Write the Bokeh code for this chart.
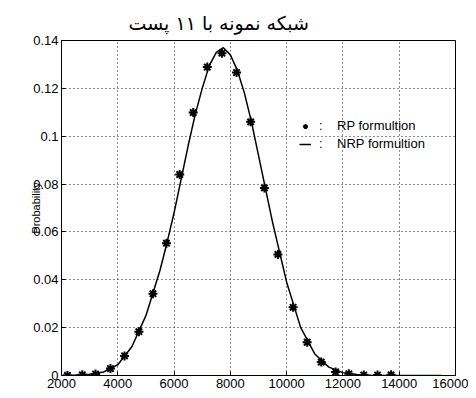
from bokeh.plotting import figure
from bokeh.models import Legend, LegendItem, FixedTicker, Range1d
from bokeh.embed import file_html
from bokeh.resources import INLINE

# RP formulation (markers)
rp_x = [2210, 2740, 3210, 3740, 4240, 4750, 5250, 5730, 6200, 6680, 7180, 7700,
        8220, 8720, 9210, 9690, 10230, 10730, 11230, 11740, 12210, 12740, 13230, 13710]
rp_y = [0.0, 0.0003, 0.0006, 0.0029, 0.0082, 0.0183, 0.0342, 0.0553, 0.0840, 0.1099,
        0.1289, 0.1347, 0.1266, 0.1060, 0.0784, 0.0506, 0.0285, 0.0139, 0.0056, 0.0015,
        0.0007, 0.0002, 0.0002, 0.0003]

# NRP formulation (line)
nrp_x = [2000, 2500, 3000, 3500, 4000, 4500, 5000, 5500, 5750, 6000, 6500, 6750, 7000,
         7250, 7500, 7750, 8000, 8250, 8500, 8750, 9000, 9250, 9500, 10000, 10500, 11000,
         11500, 12000, 12500, 13000, 14000, 15500]
nrp_y = [0.0, 0.0002, 0.0005, 0.0015, 0.0045, 0.012, 0.025, 0.044, 0.0555, 0.068, 0.096,
         0.109, 0.120, 0.1295, 0.135, 0.137, 0.134, 0.1275, 0.118, 0.106, 0.092, 0.078,
         0.064, 0.039, 0.020, 0.009, 0.0035, 0.0012, 0.0004, 0.0001, 0.0, 0.0]

x_ticks = [2000, 4000, 6000, 8000, 10000, 12000, 14000, 16000]
x_tick_labels = ["2000", "4000", "6000", "8000", "10000", "12000", "14000", "16000"]
y_ticks = [0, 0.02, 0.04, 0.06, 0.08, 0.1, 0.12, 0.14]
y_tick_labels = ["0", "0.02", "0.04", "0.06", "0.08", "0.1", "0.12", "0.14"]

title_text = "شبکه نمونه با ۱۱ پست"
legend_labels = [":\u00a0\u00a0\u00a0\u00a0RP formultion", ":\u00a0\u00a0\u00a0\u00a0NRP formultion"]
y_label = "Probability"

FONT = "Liberation Sans"

p = figure(width=468, height=390, output_backend="svg", toolbar_location=None,
           x_range=Range1d(2000, 16000), y_range=Range1d(0, 0.14),
           min_border_left=61, min_border_right=13, min_border_top=40, min_border_bottom=15)

p.title.text = title_text
p.title.text_font = "DejaVu Sans"
p.title.text_font_size = "19px"
p.title.text_font_style = "normal"
p.title.text_color = "black"
p.title.align = "left"
p.title.offset = 67
p.title.standoff = 14

p.outline_line_color = "black"
p.outline_line_width = 1
p.outline_line_alpha = 1
p.background_fill_color = "white"
p.border_fill_color = "white"

for ax in (p.xaxis[0], p.yaxis[0]):
    ax.axis_line_color = "black"
    ax.major_tick_line_color = "black"
    ax.major_tick_in = 4
    ax.major_tick_out = 0
    ax.minor_tick_line_color = None
    ax.major_label_text_font = FONT
    ax.major_label_text_font_size = "13px"
    ax.major_label_text_color = "black"

p.xaxis[0].ticker = FixedTicker(ticks=x_ticks)
p.xaxis[0].major_label_overrides = {t: l for t, l in zip(x_ticks, x_tick_labels)}
p.xaxis[0].major_label_standoff = 3
p.yaxis[0].ticker = FixedTicker(ticks=y_ticks)
p.yaxis[0].major_label_overrides = {t: l for t, l in zip(y_ticks, y_tick_labels)}
p.yaxis[0].major_label_standoff = 3
p.yaxis[0].axis_label = y_label
p.yaxis[0].axis_label_text_font = FONT
p.yaxis[0].axis_label_text_font_size = "11px"
p.yaxis[0].axis_label_text_font_style = "normal"
p.yaxis[0].axis_label_text_color = "black"
p.yaxis[0].axis_label_standoff = -12

for g in (p.xgrid[0], p.ygrid[0]):
    g.grid_line_color = "black"
    g.grid_line_dash = "1 3"
    g.grid_line_width = 1
    g.grid_line_alpha = 0.9

r_line = p.line(nrp_x, nrp_y, line_color="black", line_width=1.5)
r_mark = p.scatter(rp_x, rp_y, marker="asterisk", size=9, line_width=2, line_color="black")

legend = Legend(items=[LegendItem(label=legend_labels[0], renderers=[r_mark]),
                       LegendItem(label=legend_labels[1], renderers=[r_line])],
                location=(238, 224), orientation="vertical")
legend.border_line_alpha = 0
legend.background_fill_alpha = 0
legend.glyph_width = 12
legend.glyph_height = 12
legend.label_standoff = 8
legend.padding = 0
legend.margin = 0
legend.spacing = 3
legend.label_height = 13
legend.label_text_font = FONT
legend.label_text_font_size = "13px"
legend.label_text_color = "black"
p.add_layout(legend, "center")

open("out.html", "w").write(file_html(p, INLINE))
